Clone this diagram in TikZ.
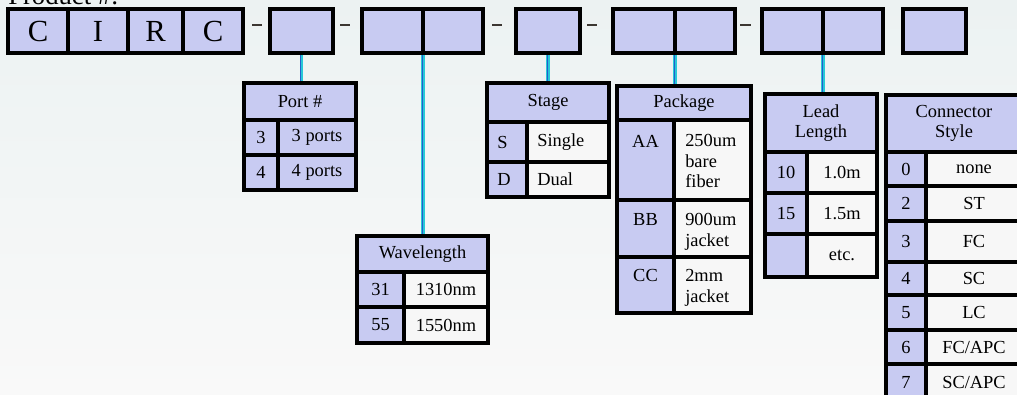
\documentclass[tikz,border=0pt]{standalone}
\usepackage{fontspec}
\setmainfont{Liberation Serif}
\usetikzlibrary{calc,backgrounds}
\definecolor{lav}{RGB}{200,203,242}
\definecolor{wcell}{RGB}{247,247,247}
\definecolor{bgtop}{RGB}{236,242,242}
\definecolor{bgbot}{RGB}{249,249,249}
\definecolor{connblue}{RGB}{35,95,205}
\definecolor{conncyan}{RGB}{40,200,215}
\definecolor{dashcol}{RGB}{60,55,50}
\newcommand\cellbox[7]{\node[cellbase,#6,minimum width={(#4-#2)*0.75pt},minimum height={(#5-#3)*0.75pt}] (#1) at ({(#2+#4)/2},{(#3+#5)/2}) {#7};}
\tikzset{
  cellbase/.style={draw=black,line width=2.8pt,inner sep=0pt,outer sep=0pt,font=\fontsize{13.8}{15.5}\selectfont,align=center},
  topc/.style={fill=lav,font=\fontsize{23}{26}\selectfont},
  lc/.style={fill=lav},
  wc/.style={fill=wcell},
  txt/.style={inner sep=0pt,font=\fontsize{13.8}{15.5}\selectfont,align=left},
  dashline/.style={draw=dashcol,line width=1.5pt},
  conn/.style={draw=conncyan,line width=2.3pt,postaction={draw=connblue,line width=0.9pt,transform canvas={xshift=-0.6pt}}},
}
\begin{document}
\begin{tikzpicture}[x=0.75pt,y=-0.75pt]
\useasboundingbox (0,0) rectangle (1017,394);
\clip (0,0) rectangle (1017,394);
% title (cut off at top)
\node[anchor=base west,inner sep=0pt,font=\fontsize{20}{24}\selectfont] (prod) at (8,4) {Product \#:};
% top row
\cellbox{c1}{8}{9}{68}{53}{topc}{C}
\cellbox{c2}{68}{9}{128}{53}{topc}{I}
\cellbox{c3}{128}{9}{183}{53}{topc}{R}
\cellbox{c4}{183}{9}{243}{53}{topc}{C}
\cellbox{b2}{270}{9}{333}{53}{topc}{}
\cellbox{b3a}{362}{9}{423}{53}{topc}{}
\cellbox{b3b}{423}{9}{483}{53}{topc}{}
\cellbox{b4}{516}{9}{580}{53}{topc}{}
\cellbox{b5a}{613}{9}{675}{53}{topc}{}
\cellbox{b5b}{675}{9}{735}{53}{topc}{}
\cellbox{b6a}{762}{9}{823}{53}{topc}{}
\cellbox{b6b}{823}{9}{883}{53}{topc}{}
\cellbox{b7}{903}{9}{966}{53}{topc}{}
% dashes
\draw[dashline] (252,25) -- (262,25);
\draw[dashline] (340,25) -- (350,25);
\draw[dashline] (492,25) -- (502,25);
\draw[dashline] (587,25) -- (597,25);
\draw[dashline] (740,25) -- (751,25);
% Port #
\cellbox{porth}{244}{83}{356}{120}{lc}{Port \#}
\cellbox{p1k}{244}{120}{278}{155}{lc}{3}
\cellbox{p1v}{278}{120}{356}{155}{lc}{3 ports}
\cellbox{p2k}{244}{155}{278}{190}{lc}{4}
\cellbox{p2v}{278}{155}{356}{190}{lc}{4 ports}
% Wavelength
\cellbox{wh}{357}{236}{488}{272}{lc}{Wavelength}
\cellbox{w1k}{357}{272}{404}{307}{lc}{31}
\cellbox{w1v}{404}{272}{488}{307}{wc}{1310nm}
\cellbox{w2k}{357}{307}{404}{343}{lc}{55}
\cellbox{w2v}{404}{307}{488}{343}{wc}{1550nm}
% Stage
\cellbox{sh}{487}{83}{609}{122}{lc}{Stage}
\cellbox{s1k}{487}{122}{527}{162}{lc}{}
\cellbox{s1v}{527}{122}{609}{162}{wc}{}
\cellbox{s2k}{487}{162}{527}{197}{lc}{}
\cellbox{s2v}{527}{162}{609}{197}{wc}{}
\node[txt,anchor=west] (s1kt) at ($(s1k.west)+(10,0)$) {S};
\node[txt,anchor=west] (s1vt) at ($(s1v.west)+(10,0)$) {Single};
\node[txt,anchor=west] (s2kt) at ($(s2k.west)+(10,0)$) {D};
\node[txt,anchor=west] (s2vt) at ($(s2v.west)+(10,0)$) {Dual};
% Package
\cellbox{kh}{617}{86}{751}{120}{lc}{Package}
\cellbox{k1k}{617}{120}{674}{200}{lc}{}
\cellbox{k1v}{674}{120}{751}{200}{wc}{}
\cellbox{k2k}{617}{200}{674}{257}{lc}{}
\cellbox{k2v}{674}{200}{751}{257}{wc}{}
\cellbox{k3k}{617}{257}{674}{313}{lc}{}
\cellbox{k3v}{674}{257}{751}{313}{wc}{}
\node[txt,anchor=north] (k1kt) at ($(k1k.north)+(0,15)$) {AA};
\node[txt,anchor=north west] (k1vt) at ($(k1v.north west)+(11,14)$) {250um\\bare\\fiber};
\node[txt,anchor=north] (k2kt) at ($(k2k.north)+(0,13)$) {BB};
\node[txt,anchor=north west] (k2vt) at ($(k2v.north west)+(11,13)$) {900um\\jacket};
\node[txt,anchor=north] (k3kt) at ($(k3k.north)+(0,12)$) {CC};
\node[txt,anchor=north west] (k3vt) at ($(k3v.north west)+(11,12)$) {2mm\\jacket};
% Lead Length
\cellbox{lh}{765}{94}{877}{152}{lc}{Lead\\Length}
\cellbox{l1k}{765}{152}{807}{193}{lc}{10}
\cellbox{l1v}{807}{152}{877}{193}{wc}{1.0m}
\cellbox{l2k}{765}{193}{807}{234}{lc}{15}
\cellbox{l2v}{807}{193}{877}{234}{wc}{1.5m}
\cellbox{l3k}{765}{234}{807}{277}{lc}{}
\cellbox{l3v}{807}{234}{877}{277}{wc}{etc.}
% Connector Style
\cellbox{ch}{886}{95}{1022}{152}{lc}{Connector\\Style}
\cellbox{r0k}{886}{152}{926}{186}{lc}{0}
\cellbox{r0v}{926}{152}{1022}{186}{wc}{none}
\cellbox{r2k}{886}{186}{926}{221}{lc}{2}
\cellbox{r2v}{926}{186}{1022}{221}{wc}{ST}
\cellbox{r3k}{886}{221}{926}{262}{lc}{3}
\cellbox{r3v}{926}{221}{1022}{262}{wc}{FC}
\cellbox{r4k}{886}{262}{926}{295}{lc}{4}
\cellbox{r4v}{926}{262}{1022}{295}{wc}{SC}
\cellbox{r5k}{886}{295}{926}{330}{lc}{5}
\cellbox{r5v}{926}{295}{1022}{330}{wc}{LC}
\cellbox{r6k}{886}{330}{926}{364}{lc}{6}
\cellbox{r6v}{926}{330}{1022}{364}{wc}{FC/APC}
\cellbox{r7k}{886}{364}{926}{400}{lc}{7}
\cellbox{r7v}{926}{364}{1022}{400}{wc}{SC/APC}
% background and connectors
\begin{scope}[on background layer]
\shade[top color=bgtop,bottom color=bgbot] (0,0) rectangle (1017,394);
\draw[conn] (b2.south) -- (b2.south |- porth.north);
\draw[conn] (b3a.south east) -- (b3a.south east |- wh.north);
\draw[conn] (b4.south) -- (b4.south |- sh.north);
\draw[conn] (b5a.south east) -- (b5a.south east |- kh.north);
\draw[conn] (b6a.south east) -- (b6a.south east |- lh.north);
\draw[conn] ($(b7.south)+(4,0)$) -- ($(b7.south)+(4,0)$ |- ch.north);
\end{scope}
\end{tikzpicture}
\end{document}
